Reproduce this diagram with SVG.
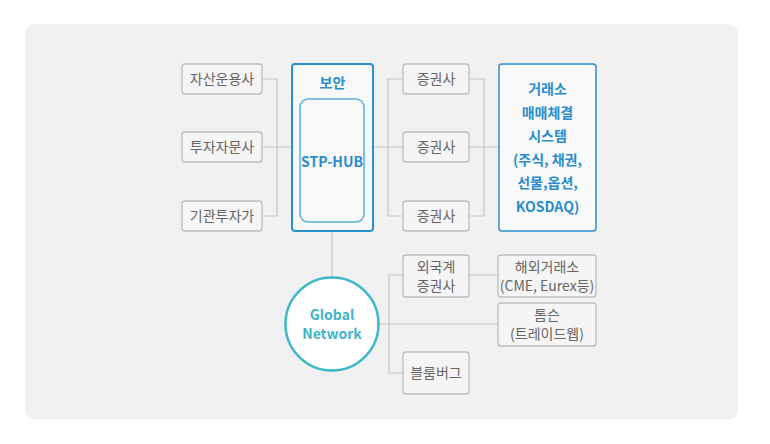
<svg xmlns="http://www.w3.org/2000/svg" width="770" height="444" viewBox="0 0 770 444">
<style>
.box{fill:#f5f5f5;stroke:#bdbdbd;stroke-width:1.3}
.t{font-family:"Noto Sans CJK KR","Noto Sans",sans-serif;font-size:14px;fill:#666;text-anchor:middle}
.b{font-family:"Noto Sans CJK KR","Noto Sans",sans-serif;font-size:14px;font-weight:bold;fill:#2a8ccc;text-anchor:middle}
.ln{stroke:#c6c6c6;stroke-width:1.2;fill:none}
</style>
<rect x="25" y="24" width="713" height="396" rx="10" fill="#f1f1f1"/>
<g id="connectors">
<path class="ln" d="M262 79H277V216H262M262 147H292"/>
<path class="ln" d="M373 147H388M403 79H388V216H403M388 147H403"/>
<path class="ln" d="M469 79H484V216H469M469 147H499"/>
<path class="ln" d="M332 231V277"/>
<path class="ln" d="M379 324H498M403 275H389V373H403M469 275H498"/>
</g>
<g id="n1"><rect class="box" x="182" y="64" width="80" height="30" rx="3"/><text class="t" x="222" y="84">자산운용사</text></g>
<g id="n2"><rect class="box" x="182" y="132" width="80" height="30" rx="3"/><text class="t" x="222" y="152">투자자문사</text></g>
<g id="n3"><rect class="box" x="182" y="201" width="80" height="30" rx="3"/><text class="t" x="222" y="221">기관투자가</text></g>
<g id="security"><rect x="292" y="64" width="81" height="167" rx="3" fill="#f8f8f8" stroke="#2b8fd0" stroke-width="2"/><text class="b" x="332.5" y="88">보안</text>
<rect x="300" y="99" width="64" height="123" rx="8" fill="#f8f8f8" stroke="#5aaee0" stroke-width="1.5"/><text class="b" x="332" y="167">STP-HUB</text></g>
<g id="s1"><rect class="box" x="403" y="64" width="66" height="30" rx="3"/><text class="t" x="436" y="84">증권사</text></g>
<g id="s2"><rect class="box" x="403" y="132" width="66" height="30" rx="3"/><text class="t" x="436" y="152">증권사</text></g>
<g id="s3"><rect class="box" x="403" y="201" width="66" height="30" rx="3"/><text class="t" x="436" y="221">증권사</text></g>
<g id="exchange"><rect x="499" y="64" width="97" height="167" rx="3" fill="#fafafa" stroke="#2b8fd0" stroke-width="1.5"/>
<text class="b" x="547.5" y="94">거래소</text><text class="b" x="547.5" y="118">매매체결</text><text class="b" x="547.5" y="141">시스템</text><text class="b" x="547.5" y="165">(주식, 채권,</text><text class="b" x="547.5" y="188">선물,옵션,</text><text class="b" x="547.5" y="212">KOSDAQ)</text></g>
<g id="global"><circle cx="332" cy="324" r="46.5" fill="#fff" stroke="#3db8c8" stroke-width="2.5"/><text class="b" x="332" y="320" style="fill:#3fb5c5">Global</text><text class="b" x="332" y="339" style="fill:#3fb5c5">Network</text></g>
<g id="foreign"><rect class="box" x="403" y="255" width="66" height="42" rx="3"/><text class="t" x="436" y="272">외국계</text><text class="t" x="436" y="291">증권사</text></g>
<g id="overseas"><rect class="box" x="498" y="255" width="98" height="42" rx="3"/><text class="t" x="547" y="272">해외거래소</text><text class="t" x="547" y="291">(CME, Eurex등)</text></g>
<g id="thomson"><rect class="box" x="498" y="303" width="98" height="43" rx="3"/><text class="t" x="547" y="320">톰슨</text><text class="t" x="547" y="339">(트레이드웹)</text></g>
<g id="bloomberg"><rect class="box" x="403" y="352" width="66" height="42" rx="3"/><text class="t" x="436" y="378">블룸버그</text></g>
</svg>
